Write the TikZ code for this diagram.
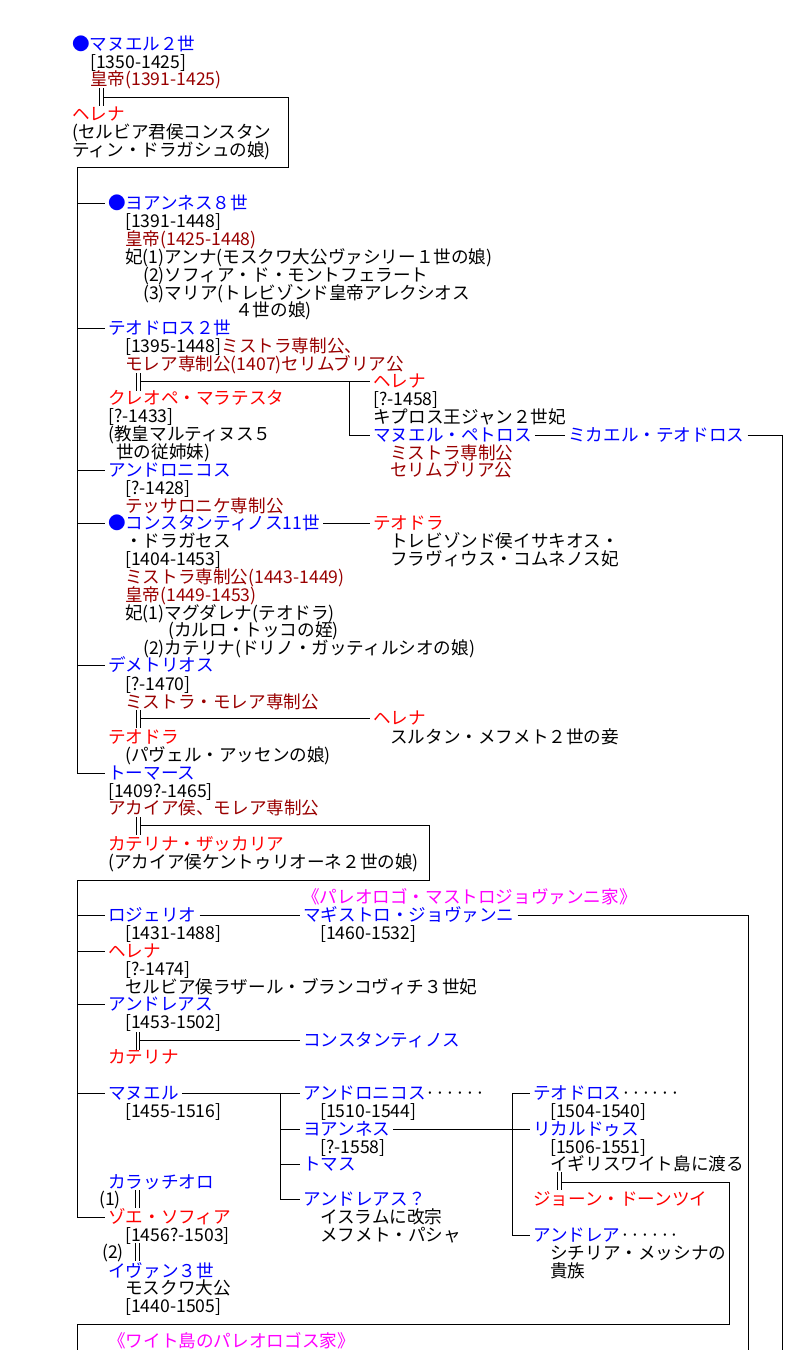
\documentclass[tikz,border=0pt]{standalone}
\usepackage{fontspec}
\newfontfamily\jp{Noto Sans CJK JP}
\newcommand\jpf{\jp\fontsize{13.2pt}{13.3pt}\selectfont}
\definecolor{dred}{HTML}{990000}
\definecolor{mag}{HTML}{FF00FF}
\newcommand\marline[2]{%
  \draw[ln] ([xshift=-1.3pt]#1) -- ([xshift=-1.3pt]#2);
  \draw[ln] ([xshift=1.3pt]#1) -- ([xshift=1.3pt]#2);}
\begin{document}
\begin{tikzpicture}[x=0.75pt,y=-0.75pt,
  tx/.style={anchor=west, inner sep=0pt, text height=11.4pt, text depth=1.8pt, font=\jpf},
  nm/.style={tx, inner xsep=2.25pt},
  ln/.style={line width=0.75pt, black}]
\fill[white] (0,0) rectangle (794,1350);
\useasboundingbox (0,0) rectangle (794,1350);

% ---- Manuel II
\node[tx,text=blue] (m2) at (72,44) {●マヌエル２世};
\node[tx] (m2a) at (90,62) {[1350-1425]};
\node[tx,text=dred] (m2b) at (90,79) {皇帝(1391-1425)};
\node[tx,text=red] (hel) at (72,114) {ヘレナ};
\node[tx] (hela) at (72,132) {(セルビア君侯コンスタン};
\node[tx] (helb) at (72,150) {ティン・ドラガシュの娘)};

% ---- children
\node[nm,text=blue] (jo8) at (105,203) {●ヨアンネス８世};
\node[tx] (jo8a) at (125,221) {[1391-1448]};
\node[tx,text=dred] (jo8b) at (125,239) {皇帝(1425-1448)};
\node[tx] (jo8c) at (125,257) {妃(1)アンナ(モスクワ大公ヴァシリー１世の娘)};
\node[tx] (jo8d) at (143,275) {(2)ソフィア・ド・モントフェラート};
\node[tx] (jo8e) at (143,293) {(3)マリア(トレビゾンド皇帝アレクシオス};
\node[tx] (jo8f) at (235,310) {４世の娘)};

\node[nm,text=blue] (th2) at (105,328) {テオドロス２世};
\node[tx] (th2a) at (125,346) {[1395-1448]\textcolor{dred}{ミストラ専制公、}};
\node[tx,text=dred] (th2b) at (125,364) {モレア専制公(1407)セリムブリア公};
\node[tx,text=red] (cle) at (108,398) {クレオペ・マラテスタ};
\node[tx] (clea) at (108,416) {[?-1433]};
\node[tx] (cleb) at (108,434) {(教皇マルティヌス５};
\node[tx] (clec) at (116,452) {世の従姉妹)};
\node[nm,text=red] (hl2) at (370,381) {ヘレナ};
\node[tx] (hl2a) at (373,399) {[?-1458]};
\node[tx] (hl2b) at (373,417) {キプロス王ジャン２世妃};
\node[nm,text=blue] (mpe) at (370,435) {マヌエル・ペトロス};
\node[tx,text=dred] (mpea) at (390,453) {ミストラ専制公};
\node[tx,text=dred] (mpeb) at (390,470) {セリムブリア公};
\node[nm,text=blue] (mth) at (565,435) {ミカエル・テオドロス};

\node[nm,text=blue] (and) at (105,470) {アンドロニコス};
\node[tx] (anda) at (125,488) {[?-1428]};
\node[tx,text=dred] (andb) at (125,506) {テッサロニケ専制公};

\node[nm,text=blue] (c11) at (105,523) {●コンスタンティノス11世};
\node[tx] (c11a) at (125,541) {・ドラガセス};
\node[tx] (c11b) at (125,559) {[1404-1453]};
\node[tx,text=dred] (c11c) at (125,577) {ミストラ専制公(1443-1449)};
\node[tx,text=dred] (c11d) at (125,595) {皇帝(1449-1453)};
\node[tx] (c11e) at (125,613) {妃(1)マグダレナ(テオドラ)};
\node[tx] (c11f) at (168,630) {(カルロ・トッコの姪)};
\node[tx] (c11g) at (143,648) {(2)カテリナ(ドリノ・ガッティルシオの娘)};
\node[nm,text=red] (tdr) at (370,523) {テオドラ};
\node[tx] (tdra) at (390,541) {トレビゾンド侯イサキオス・};
\node[tx] (tdrb) at (390,559) {フラヴィウス・コムネノス妃};

\node[nm,text=blue] (dem) at (105,665) {デメトリオス};
\node[tx] (dema) at (125,684) {[?-1470]};
\node[tx,text=dred] (demb) at (125,702) {ミストラ・モレア専制公};
\node[nm,text=red] (hl3) at (370,718) {ヘレナ};
\node[tx] (hl3a) at (390,737) {スルタン・メフメト２世の妾};
\node[tx,text=red] (tdw) at (108,737) {テオドラ};
\node[tx] (tdwa) at (125,755) {(パヴェル・アッセンの娘)};

\node[nm,text=blue] (tho) at (105,773) {トーマース};
\node[tx] (thoa) at (108,791) {[1409?-1465]};
\node[tx,text=dred] (thob) at (108,808) {アカイア侯、モレア専制公};
\node[tx,text=red] (kat) at (108,844) {カテリナ・ザッカリア};
\node[tx] (kata) at (108,862) {(アカイア侯ケントゥリオーネ２世の娘)};

% ---- Thomas' children
\node[tx,text=mag] (hs1) at (302,897) {《パレオロゴ・マストロジョヴァンニ家》};
\node[nm,text=blue] (roj) at (105,915) {ロジェリオ};
\node[tx] (roja) at (125,933) {[1431-1488]};
\node[nm,text=blue] (mgs) at (300,915) {マギストロ・ジョヴァンニ};
\node[tx] (mgsa) at (320,933) {[1460-1532]};
\node[nm,text=red] (hl4) at (105,951) {ヘレナ};
\node[tx] (hl4a) at (125,969) {[?-1474]};
\node[tx] (hl4b) at (125,987) {セルビア侯ラザール・ブランコヴィチ３世妃};
\node[nm,text=blue] (anr) at (105,1004) {アンドレアス};
\node[tx] (anra) at (125,1022) {[1453-1502]};
\node[nm,text=blue] (kon) at (300,1040) {コンスタンティノス};
\node[tx,text=red] (ktr) at (108,1057) {カテリナ};

\node[nm,text=blue] (man) at (105,1093) {マヌエル};
\node[tx] (mana) at (125,1111) {[1455-1516]};
\node[nm,text=blue] (anc) at (300,1093) {アンドロニコス\textcolor{black}{······}};
\node[tx] (anca) at (320,1111) {[1510-1544]};
\node[nm,text=blue] (yoa) at (300,1129) {ヨアンネス};
\node[tx] (yoaa) at (320,1147) {[?-1558]};
\node[nm,text=blue] (tom) at (300,1164) {トマス};
\node[nm,text=blue] (adr) at (300,1199) {アンドレアス？};
\node[tx] (adra) at (320,1217) {イスラムに改宗};
\node[tx] (adrb) at (320,1235) {メフメト・パシャ};
\node[nm,text=blue] (teo) at (530,1093) {テオドロス\textcolor{black}{······}};
\node[tx] (teoa) at (550,1111) {[1504-1540]};
\node[nm,text=blue] (ric) at (530,1129) {リカルドゥス};
\node[tx] (rica) at (550,1147) {[1506-1551]};
\node[tx] (ricb) at (550,1164) {イギリスワイト島に渡る};
\node[tx,text=red] (joh) at (533,1199) {ジョーン・ドーンツイ};
\node[nm,text=blue] (adl) at (530,1235) {アンドレア\textcolor{black}{······}};
\node[tx] (adla) at (550,1253) {シチリア・メッシナの};
\node[tx] (adlb) at (550,1271) {貴族};

\node[tx,text=blue] (kar) at (108,1182) {カラッチオロ};
\node[tx] (nb1) at (99,1199) {(1)};
\node[nm,text=red] (zoe) at (105,1217) {ゾエ・ソフィア};
\node[tx] (zoea) at (125,1235) {[1456?-1503]};
\node[tx] (nb2) at (102,1252) {(2)};
\node[tx,text=blue] (iva) at (108,1271) {イヴァン３世};
\node[tx] (ivaa) at (125,1288) {モスクワ大公};
\node[tx] (ivab) at (125,1306) {[1440-1505]};
\node[tx,text=mag] (hs2) at (108,1341) {《ワイト島のパレオロゴス家》};

% ---- connectors
\coordinate (mA) at (101.5,88); \coordinate (mB) at (101.5,106);
\marline{mA}{mB}
\coordinate (k1) at (103,97); \coordinate (k2) at (288,97);
\coordinate (k3) at (288,167); \coordinate (sp1) at (77,167);
\draw[ln] (k1) -- (k2) -- (k3) -- (sp1) -- (sp1 |- tho) -- (tho.west);
\foreach \n in {jo8,th2,and,c11,dem} \draw[ln] (sp1 |- \n) -- (\n.west);

\coordinate (tA) at (138.5,373); \coordinate (tB) at (138.5,391);
\marline{tA}{tB}
\coordinate (tC) at (140,381); \coordinate (tD) at (349,381);
\draw[ln] (tC) -- (hl2.west);
\draw[ln] (tD) |- (mpe.west);
\draw[ln] (mpe.east) -- (mth.west);
\coordinate (rx) at (782,1350);
\draw[ln] (mth.east) -| (rx);

\draw[ln] (c11.east) -- (tdr.west);

\coordinate (dA) at (138.5,710); \coordinate (dB) at (138.5,728);
\marline{dA}{dB}
\coordinate (dC) at (140,718);
\draw[ln] (dC) -- (hl3.west);

\coordinate (hA) at (138.5,817); \coordinate (hB) at (138.5,835);
\marline{hA}{hB}
\coordinate (hC) at (140,825); \coordinate (hD) at (429,880); \coordinate (sp2) at (77,880);
\draw[ln] (hC) -| (hD) -- (sp2) -- (sp2 |- zoe) -- (zoe.west);
\foreach \n in {roj,hl4,anr,man} \draw[ln] (sp2 |- \n) -- (\n.west);

\draw[ln] (roj.east) -- (mgs.west);
\coordinate (qx) at (748,1350);
\draw[ln] (mgs.east) -| (qx);

\coordinate (aA) at (138,1032); \coordinate (aB) at (138,1050);
\marline{aA}{aB}
\coordinate (aC) at (140,1040);
\draw[ln] (aC) -- (kon.west);

\coordinate (v1) at (280,1093);
\draw[ln] (man.east) -- (anc.west);
\draw[ln] (v1) |- (adr.west);
\draw[ln] (v1 |- yoa) -- (yoa.west);
\draw[ln] (v1 |- tom) -- (tom.west);

\coordinate (v2) at (512,1093);
\draw[ln] (yoa.east) -- (ric.west);
\draw[ln] (v2) -- (teo.west);
\draw[ln] (v2) |- (adl.west);

\coordinate (rA) at (559.5,1172); \coordinate (rB) at (559.5,1190);
\marline{rA}{rB}
\coordinate (rC) at (561,1182); \coordinate (rD) at (729,1324);
\coordinate (rE) at (77,1324); \coordinate (rF) at (77,1350);
\draw[ln] (rC) -| (rD) -- (rE) -- (rF);

\coordinate (zA) at (137.5,1190); \coordinate (zB) at (137.5,1208);
\marline{zA}{zB}
\coordinate (zC) at (137.5,1243); \coordinate (zD) at (137.5,1261);
\marline{zC}{zD}
\end{tikzpicture}
\end{document}
